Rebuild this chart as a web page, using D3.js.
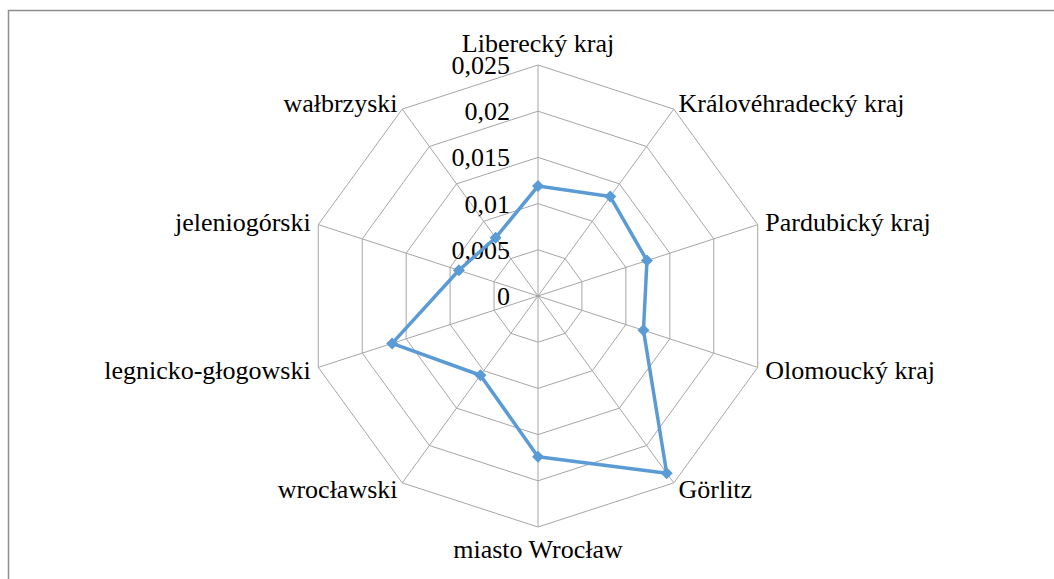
<!DOCTYPE html>
<html>
<head>
<meta charset="utf-8">
<script src="https://cdn.jsdelivr.net/npm/d3@7"></script>
<style>
  body { margin: 0; background: #fff; font-family: "Times New Roman", "Liberation Serif", serif; }
  svg text { font-family: "Times New Roman", "Liberation Serif", serif !important; }
</style>
</head>
<body>
<div id="chart"></div>
<script>
const categories = [
  'Liberecký kraj', 'Královéhradecký kraj', 'Pardubický kraj', 'Olomoucký kraj',
  'Görlitz', 'miasto Wrocław', 'wrocławski', 'legnicko-głogowski',
  'jeleniogórski', 'wałbrzyski'
];
const values = [0.0119, 0.0133, 0.0124, 0.0120, 0.0237, 0.0174, 0.0106, 0.0166, 0.0090, 0.0078];
const ticks = [0, 0.005, 0.01, 0.015, 0.02, 0.025];
const tickLabels = ['0', '0,005', '0,01', '0,015', '0,02', '0,025'];

const width = 1054;
const height = 579;
const cx = 538;
const cy = 296;
const R = 231;

const svg = d3.select('#chart').append('svg')
  .attr('width', width)
  .attr('height', height)
  .attr('font-family', 'serif');

// Outer frame (runs off the right and bottom edge)
svg.append('rect')
  .attr('x', 8.5)
  .attr('y', 10.5)
  .attr('width', width + 20)
  .attr('height', height + 20)
  .attr('fill', 'none')
  .attr('stroke', '#8f8f8f')
  .attr('stroke-width', 1.5);

const r = d3.scaleLinear().domain([0, 0.025]).range([0, R]);
const angle = d3.scaleLinear().domain([0, categories.length]).range([0, 2 * Math.PI]);

function point(i, v) {
  const a = angle(i);
  return [cx + r(v) * Math.sin(a), cy - r(v) * Math.cos(a)];
}

// Grid rings
ticks.filter(t => t > 0).forEach(t => {
  const pts = categories.map((c, i) => point(i, t));
  svg.append('path')
    .attr('d', d3.line()(pts) + 'Z')
    .attr('fill', 'none')
    .attr('stroke', '#a6a6a6')
    .attr('stroke-width', 1);
});

// Spokes
categories.forEach((c, i) => {
  const p = point(i, 0.025);
  svg.append('line')
    .attr('x1', cx).attr('y1', cy)
    .attr('x2', p[0]).attr('y2', p[1])
    .attr('stroke', '#a6a6a6')
    .attr('stroke-width', 1);
});

// Tick labels
svg.selectAll('.tick-label')
  .data(ticks)
  .enter().append('text')
  .attr('class', 'tick-label')
  .attr('x', cx - 28)
  .attr('y', d => cy - r(d) + 9)
  .attr('text-anchor', 'end')
  .attr('font-family', 'serif')
  .attr('font-size', 26)
  .text((d, i) => tickLabels[i]);

// Category labels
categories.forEach((c, i) => {
  const a = angle(i);
  const s = Math.sin(a);
  const off = Math.abs(s) < 0.01 ? 22 : 8;
  const p = [cx + (R + off) * s, cy - (R + off) * Math.cos(a)];
  svg.append('text')
    .attr('x', p[0])
    .attr('y', p[1] + 9)
    .attr('text-anchor', s > 0.01 ? 'start' : (s < -0.01 ? 'end' : 'middle'))
    .attr('font-family', 'serif')
    .attr('font-size', 26)
    .text(c);
});

// Series line
const seriesPts = values.map((v, i) => point(i, v));
svg.append('path')
  .attr('d', d3.line()(seriesPts) + 'Z')
  .attr('fill', 'none')
  .attr('stroke', '#5b9bd5')
  .attr('stroke-width', 3.5)
  .attr('stroke-linejoin', 'round');

// Diamond markers
svg.selectAll('.marker')
  .data(seriesPts)
  .enter().append('path')
  .attr('class', 'marker')
  .attr('d', d3.symbol().type(d3.symbolSquare).size(72))
  .attr('transform', d => `translate(${d[0]},${d[1]}) rotate(45)`)
  .attr('fill', '#5b9bd5');
</script>
</body>
</html>
